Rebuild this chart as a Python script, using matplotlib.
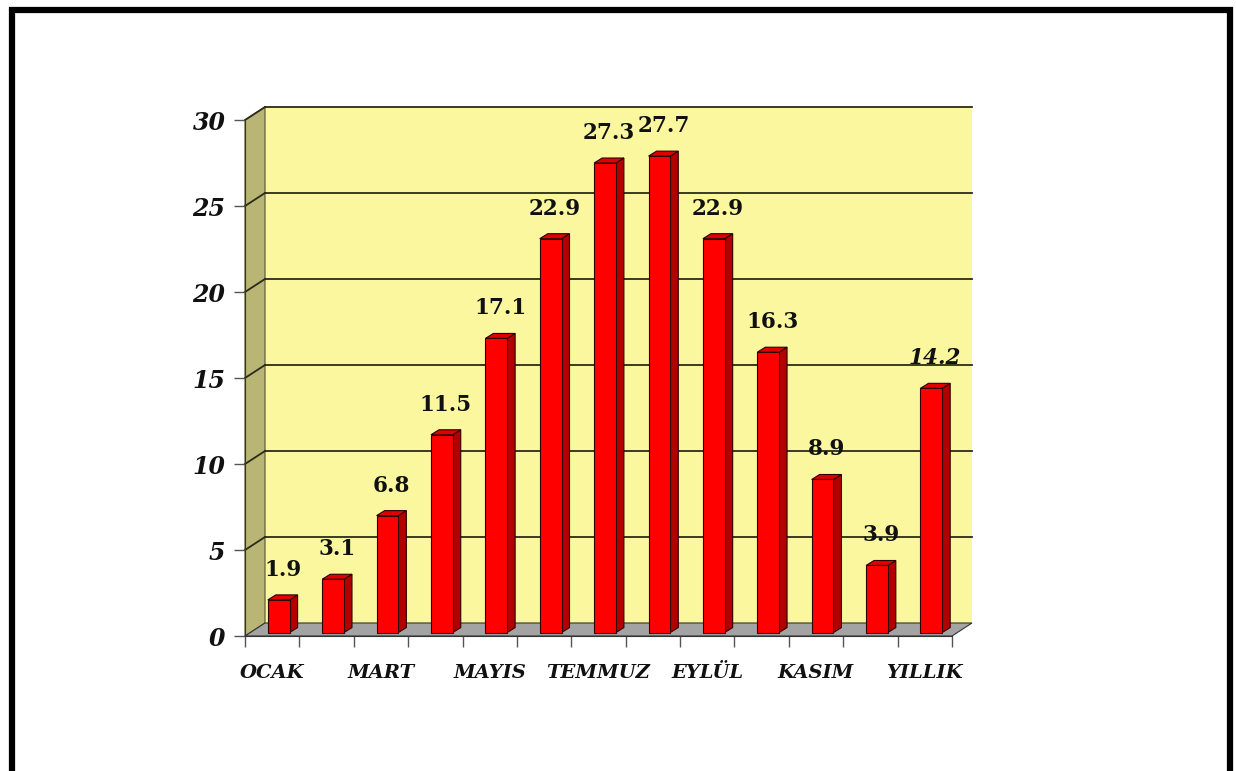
import numpy as np
import matplotlib.pyplot as plt
from matplotlib.patches import Polygon, Rectangle

months = ['OCAK', 'ŞUBAT', 'MART', 'NİSAN', 'MAYIS', 'HAZİRAN', 'TEMMUZ',
          'AĞUSTOS', 'EYLÜL', 'EKİM', 'KASIM', 'ARALIK', 'YILLIK']
temps = [1.9, 3.1, 6.8, 11.5, 17.1, 22.9, 27.3, 27.7, 22.9, 16.3, 8.9, 3.9, 14.2]
yticks = [0, 5, 10, 15, 20, 25, 30]

serif = ['DejaVu Serif']
n = len(temps)

fig = plt.figure(figsize=(12.36, 7.71), dpi=100)
ax = fig.add_axes([245 / 1236, 135 / 771, 707 / 1236, 516 / 771])
ax.set_xlim(0, n)
ax.set_ylim(0, 30)
ax.patch.set_visible(False)

# depth of the 3d box in data units
dx, dy = 0.368, 0.756
# bar geometry
bw, bx0, by0 = 0.40, 0.42, 0.2
sdx, sdy = 0.147, 0.29

wall = '#fbf79f'
side = '#b9b574'
floor = '#a3a3a3'
red = '#ff0000'
dark_red = '#b00000'

ax.add_patch(Polygon([(dx, dy), (n + dx, dy), (n + dx, 30 + dy), (dx, 30 + dy)],
                     closed=True, fc=wall, ec='none', zorder=0, clip_on=False))
ax.add_patch(Polygon([(0, 0), (dx, dy), (dx, 30 + dy), (0, 30)],
                     closed=True, fc=side, ec='#555533', lw=0.8, zorder=0.5, clip_on=False))
ax.add_patch(Polygon([(0, 0), (n, 0), (n + dx, dy), (dx, dy)],
                     closed=True, fc=floor, ec='#333333', lw=0.8, zorder=0.6, clip_on=False))

for v in yticks[1:]:
    ax.plot([dx, n + dx], [v + dy, v + dy], color='#2b2b1a', lw=1.3, zorder=1, clip_on=False)
    ax.plot([0, dx], [v, v + dy], color='#2b2b1a', lw=1.3, zorder=1, clip_on=False)

for i, v in enumerate(temps):
    x0 = i + bx0
    x1 = x0 + bw
    top = v + by0
    ax.add_patch(Polygon([(x1, by0), (x1 + sdx, by0 + sdy), (x1 + sdx, top + sdy), (x1, top)],
                         closed=True, fc=dark_red, ec='#300000', lw=0.8, zorder=3, clip_on=False))
    ax.add_patch(Polygon([(x0, top), (x1, top), (x1 + sdx, top + sdy), (x0 + sdx, top + sdy)],
                         closed=True, fc='#e00000', ec='#300000', lw=0.8, zorder=3, clip_on=False))
    ax.add_patch(Rectangle((x0, by0), bw, v, fc=red, ec='#300000', lw=0.8, zorder=3, clip_on=False))
    style = 'italic' if i == n - 1 else 'normal'
    ax.text(x0 + (bw + sdx) / 2, top + 1.75, f'{v}', ha='center', va='center',
            fontsize=15.5, fontweight='bold', fontstyle=style, family=serif,
            color='#111111', zorder=4, clip_on=False)

for s in ['top', 'right']:
    ax.spines[s].set_visible(False)
ax.spines['left'].set_color('#333333')
ax.spines['bottom'].set_color('#333333')
ax.spines['left'].set_zorder(2)
ax.spines['bottom'].set_zorder(2)

ax.set_yticks(yticks)
ax.set_yticklabels([str(t) for t in yticks], fontsize=17, fontweight='bold',
                   fontstyle='italic', family=serif, color='#111111')
ax.tick_params(axis='y', direction='out', length=8, width=1, color='#555555', pad=6)

ax.set_xticks(np.arange(n + 1), minor=True)
ax.set_xticks(np.arange(0, n, 2) + 0.5)
ax.set_xticklabels(months[::2], fontsize=14, fontweight='bold', fontstyle='italic',
                   family=serif, color='#111111')
ax.tick_params(axis='x', which='major', length=0, pad=20)
ax.tick_params(axis='x', which='minor', direction='out', length=8, width=1, color='#555555')

# outer frame
fig.patches.append(Rectangle((12 / 1236, -0.05), 1218 / 1236, 1.05 - 10 / 771,
                             transform=fig.transFigure, fill=False, ec='black', lw=4.5))

fig.savefig('out.png', dpi=100)
